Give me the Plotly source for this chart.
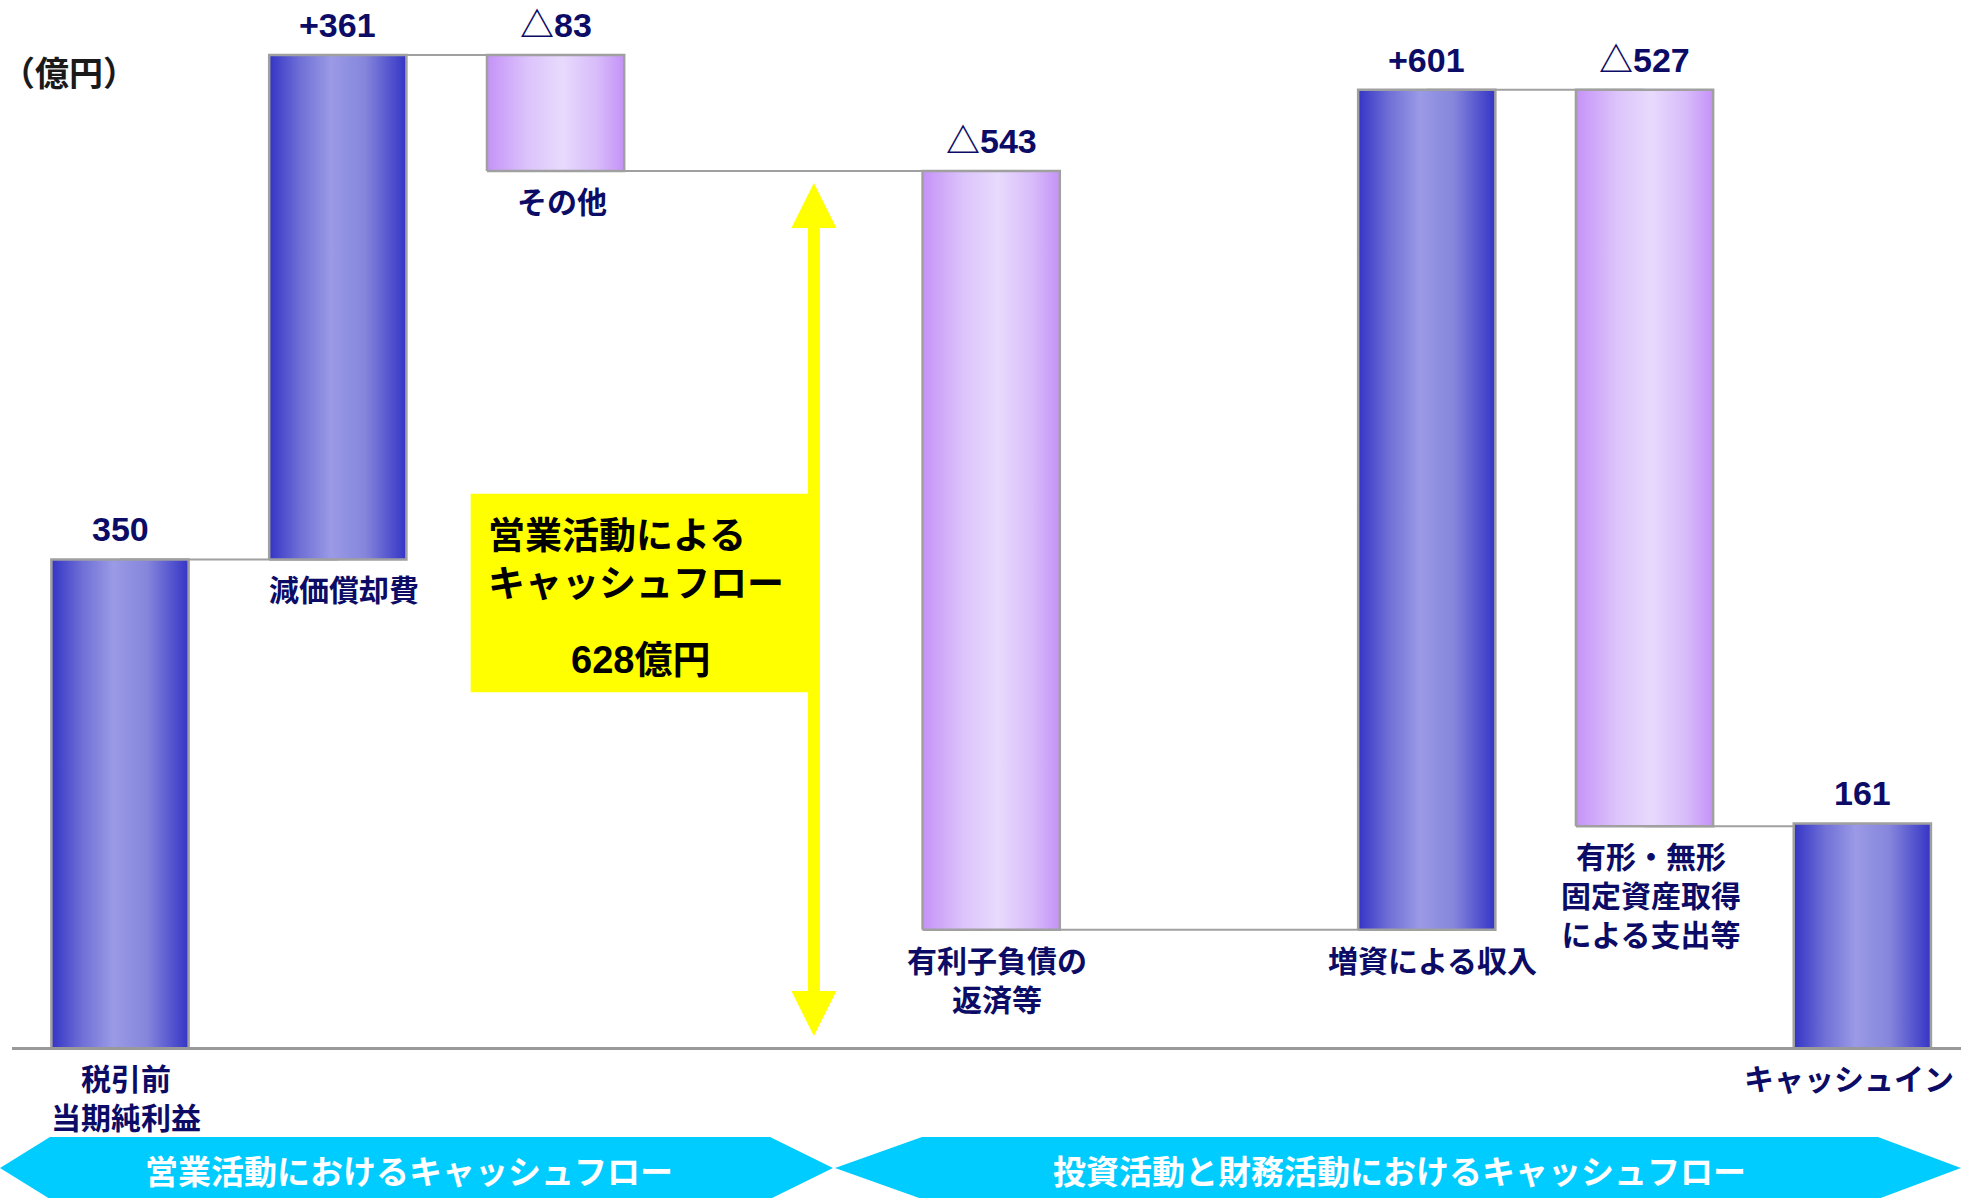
import plotly.graph_objects as go

# --- data ---
categories = ['税引前<br>当期純利益', '減価償却費', 'その他', '', '有利子負債の<br>返済等', '',
              '増資による収入', '有形・無形<br>固定資産取得<br>による支出等', 'キャッシュイン']
values = [350, 361, -83, None, -543, None, 601, -527, 161]
measures = ['absolute', 'relative', 'relative', None, 'relative', None, 'relative', 'relative', 'total']
value_labels = ['350', '+361', '△83', '', '△543', '', '+601', '△527', '161']

unit_label = '（億円）'
op_cf_title = '営業活動による<br>キャッシュフロー'
op_cf_value = 628
section_labels = ['営業活動におけるキャッシュフロー', '投資活動と財務活動におけるキャッシュフロー']

# --- styling ---
W, H = 1961, 1198
FONT = 'Liberation Sans Narrow, Liberation Sans, Noto Sans CJK JP, sans-serif'
CJK = 'Noto Sans CJK JP, sans-serif'
NAVY = '#0c0c66'
BAR_W = 0.63
BLUE_SCALE = [[0, '#3434c6'], [0.22, '#6e6ed6'], [0.45, '#9a9ae6'], [0.7, '#8585dc'], [1, '#3434c6']]
PURPLE_SCALE = [[0, '#c592f8'], [0.3, '#dcc4fb'], [0.55, '#e8dafd'], [0.8, '#d8bcfa'], [1, '#c592f8']]


def px_to_paper(x, y):
    return x / W, 1 - y / H


# running totals -> floating bars
bars = []
running = 0
for i, (v, m) in enumerate(zip(values, measures)):
    if v is None:
        continue
    if m == 'relative':
        lo, hi = sorted([running, running + v])
        running += v
    else:
        lo, hi = 0, v
        running = v
    bars.append(dict(i=i, lo=lo, hi=hi, v=v, end=running, m=m))

fig = go.Figure()

# connectors (under the bars)
for a, b in zip(bars[:-1], bars[1:]):
    fig.add_trace(go.Scatter(x=[a['i'], b['i']], y=[a['end'], a['end']], mode='lines',
                             line=dict(color='#a0a0a0', width=2), hoverinfo='skip'))

# bars with horizontal gradient
for b in bars:
    x0, x1 = b['i'] - BAR_W / 2, b['i'] + BAR_W / 2
    scale = PURPLE_SCALE if (b['m'] == 'relative' and b['v'] < 0) else BLUE_SCALE
    fig.add_trace(go.Scatter(x=[x0, x1, x1, x0, x0], y=[b['lo'], b['lo'], b['hi'], b['hi'], b['lo']],
                             mode='lines', fill='toself',
                             fillgradient=dict(type='horizontal', colorscale=scale),
                             line=dict(color='#a0a0a0', width=2.5), hoverinfo='skip'))
    # value label above the bar
    fig.add_annotation(x=b['i'], y=b['hi'], text=value_labels[b['i']], showarrow=False,
                       yanchor='middle', yshift=30,
                       font=dict(family=FONT, size=34, color=NAVY, weight='bold'))
    # category label below the bar
    last = b['i'] == len(categories) - 1
    fig.add_annotation(x=8.43 if last else b['i'], y=b['lo'], text=categories[b['i']], showarrow=False,
                       xanchor='right' if last else 'center', yanchor='top',
                       xshift=0 if last else 6, yshift=-5,
                       font=dict(family=CJK, size=30, color=NAVY, weight='bold'))

# baseline
fig.add_shape(type='line', xref='paper', yref='y', x0=12 / W, x1=1, y0=0, y1=0,
              line=dict(color='#999999', width=3))

# operating CF box and arrow
fig.add_shape(type='rect', x0=1.61, x1=3.17, y0=255, y1=397,
              fillcolor='#ffff00', line=dict(width=0), layer='above')
fig.add_annotation(x=3.186, y=op_cf_value, ax=3.186, ay=0, axref='x', ayref='y', text='',
                   showarrow=True, arrowside='end+start', arrowhead=2, startarrowhead=2,
                   arrowsize=0.75, startarrowsize=0.75, arrowwidth=12, arrowcolor='#ffff00',
                   standoff=12, startstandoff=11)
fig.add_annotation(x=2.37, y=352, text=op_cf_title, showarrow=False, align='left',
                   font=dict(family=CJK, size=37, color='black', weight='bold'))
fig.add_annotation(x=2.39, y=278, text=f'{op_cf_value}億円', showarrow=False,
                   font=dict(family=FONT, size=38, color='black', weight='bold'))

# unit label
ux, uy = px_to_paper(0, 72)
fig.add_annotation(xref='paper', yref='paper', x=ux, y=uy, text=unit_label, showarrow=False,
                   xanchor='left', yanchor='middle', borderpad=0,
                   font=dict(family=CJK, size=34, color='#1a1a1a', weight='bold'))

# section banners
banners = [
    [(0, 1168), (50, 1137), (770, 1137), (833, 1168), (770, 1199), (50, 1199)],
    [(835, 1168), (922, 1137), (1878, 1137), (1961, 1168), (1878, 1199), (922, 1199)],
]
banner_centers = [(409, 1170), (1399, 1170)]
for pts, (cx, cy), txt in zip(banners, banner_centers, section_labels):
    path = 'M ' + ' L '.join('%.5f,%.5f' % px_to_paper(x, y) for x, y in pts) + ' Z'
    fig.add_shape(type='path', xref='paper', yref='paper', path=path,
                  fillcolor='#00ccff', line=dict(width=0), layer='above')
    tx, ty = px_to_paper(cx, cy)
    fig.add_annotation(xref='paper', yref='paper', x=tx, y=ty, text=txt, showarrow=False,
                       xanchor='center', yanchor='middle',
                       font=dict(family=CJK, size=33, color='white', weight='bold'))

fig.update_layout(width=W, height=H, margin=dict(l=0, r=0, t=0, b=0),
                  paper_bgcolor='white', plot_bgcolor='white', showlegend=False,
                  xaxis=dict(visible=False, range=[-0.551, 8.453], fixedrange=True),
                  yaxis=dict(visible=False, range=[-107, 750.3], fixedrange=True))

fig.write_html('out.html', config={'displayModeBar': False},
               post_script="document.body.style.margin='0';document.body.style.overflow='hidden';")
